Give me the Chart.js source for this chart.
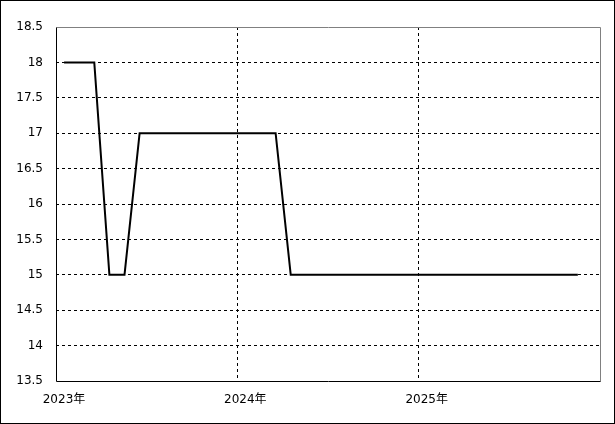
<!DOCTYPE html>
<html>
<head>
<meta charset="utf-8">
<script src="https://cdn.jsdelivr.net/npm/chart.js@4"></script>
<style>
  html, body { margin: 0; padding: 0; background: #fff; }
  #wrap { width: 615px; height: 424px; }
</style>
</head>
<body>
<div id="wrap"><canvas id="myChart" width="615" height="424"></canvas></div>
<script>
// monthly readings, Jan 2023 .. Nov 2025
const months = [
  '2023-01','2023-02','2023-03','2023-04','2023-05','2023-06','2023-07','2023-08','2023-09','2023-10','2023-11','2023-12',
  '2024-01','2024-02','2024-03','2024-04','2024-05','2024-06','2024-07','2024-08','2024-09','2024-10','2024-11','2024-12',
  '2025-01','2025-02','2025-03','2025-04','2025-05','2025-06','2025-07','2025-08','2025-09','2025-10','2025-11'
];
const values = [
  18, 18, 18, 15, 15, 17, 17, 17, 17, 17, 17, 17,
  17, 17, 17, 15, 15, 15, 15, 15, 15, 15, 15, 15,
  15, 15, 15, 15, 15, 15, 15, 15, 15, 15, 15
];
const yearLabels = ['2023年', '2024年', '2025年'];
const firstYear = 2023;
const dayOfMonth = 17; // readings sit mid-month

const FONT = "'DejaVu Sans', 'Noto Sans CJK JP', sans-serif";

// month string -> months since Jan of firstYear (fractional)
function monthPos(s) {
    var p = s.split('-');
    return (parseInt(p[0]) - firstYear) * 12 + (parseInt(p[1]) - 1) + (dayOfMonth - 1) / 30;
}

var points = months.map(function (m, i) { return { x: monthPos(m), y: values[i] }; });

var framePlugin = {
    id: 'frame',
    beforeDraw: function (chart) {
        var c = chart.ctx;
        c.save();
        c.fillStyle = '#fff';
        c.fillRect(0, 0, chart.width, chart.height);
        c.restore();
    },
    afterDraw: function (chart) {
        var c = chart.ctx, a = chart.chartArea;
        c.save();
        c.lineWidth = 1;
        // top and right of the plot in grey
        c.strokeStyle = '#808080';
        c.beginPath();
        c.moveTo(Math.round(a.left) + 0.5, Math.round(a.top) + 0.5);
        c.lineTo(Math.round(a.right) + 0.5, Math.round(a.top) + 0.5);
        c.lineTo(Math.round(a.right) + 0.5, Math.round(a.bottom) + 0.5);
        c.stroke();
        // left and bottom axis in black
        c.strokeStyle = '#000';
        c.beginPath();
        c.moveTo(Math.round(a.left) + 0.5, Math.round(a.top) + 0.5);
        c.lineTo(Math.round(a.left) + 0.5, Math.round(a.bottom) + 0.5);
        c.lineTo(Math.round(a.right) + 0.5, Math.round(a.bottom) + 0.5);
        c.stroke();
        // outer frame
        c.strokeRect(0.5, 0.5, chart.width - 1, chart.height - 1);
        c.restore();
    }
};

var ctx = document.getElementById('myChart');

var myChart = new Chart(ctx, {
    type: 'line',
    data: {
        datasets: [{
            data: points,
            borderColor: '#000',
            borderWidth: 2,
            pointRadius: 0,
            tension: 0,
            fill: false
        }]
    },
    options: {
        responsive: false,
        animation: false,
        events: [],
        layout: { padding: { top: 27, right: 15, left: 0, bottom: 0 } },
        plugins: {
            legend: { display: false },
            tooltip: { enabled: false }
        },
        scales: {
            x: {
                type: 'linear',
                min: 0,
                max: 36,
                afterFit: function (scale) { scale.height = 43; },
                border: { display: false, dash: [3, 3] },
                grid: {
                    color: function (c) {
                        var v = c.tick ? c.tick.value : null;
                        return (v === 12 || v === 24) ? '#000' : 'rgba(0,0,0,0)';
                    },
                    lineWidth: 1,
                    drawTicks: false
                },
                ticks: {
                    stepSize: 12,
                    autoSkip: false,
                    maxRotation: 0,
                    padding: 12,
                    labelOffset: 8,
                    color: '#000',
                    font: { family: FONT, size: 12 },
                    callback: function (v) {
                        var i = v / 12;
                        return i < yearLabels.length ? yearLabels[i] : null;
                    }
                }
            },
            y: {
                min: 13.5,
                max: 18.5,
                afterFit: function (scale) { scale.width = 56; },
                border: { display: false, dash: [3, 3] },
                grid: {
                    color: function (c) {
                        var v = c.tick ? c.tick.value : null;
                        return (v === 13.5 || v === 18.5) ? 'rgba(0,0,0,0)' : '#000';
                    },
                    lineWidth: 1,
                    drawTicks: false
                },
                ticks: {
                    stepSize: 0.5,
                    padding: 13,
                    color: '#000',
                    font: { family: FONT, size: 12 },
                    callback: function (v) { return String(v); }
                }
            }
        }
    },
    plugins: [framePlugin]
});
</script>
</body>
</html>
